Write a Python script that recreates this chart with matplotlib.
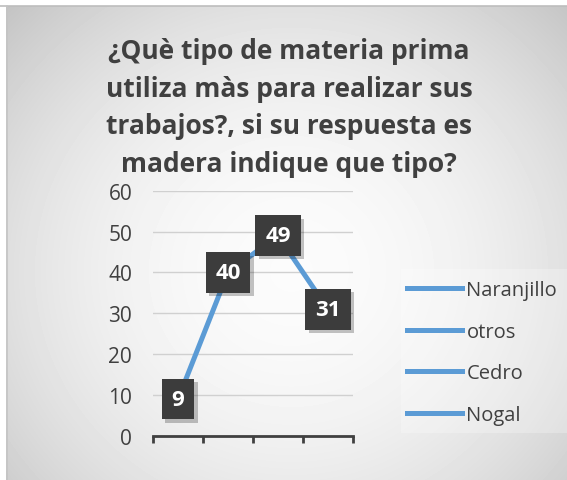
import numpy as np
import matplotlib
matplotlib.use("Agg")
import matplotlib.pyplot as plt
import matplotlib.patheffects as pe
from matplotlib.lines import Line2D
from matplotlib.patches import Rectangle

# datos
categorias = ["Naranjillo", "otros", "Cedro", "Nogal"]
valores = [9, 40, 49, 31]
y_ticks = [0, 10, 20, 30, 40, 50, 60]
titulo = ("¿Què tipo de materia prima\nutiliza màs para realizar sus\n"
          "trabajos?, si su respuesta es\nmadera indique que tipo?")

azul = "#5B9BD5"
gris_txt = "#404040"

plt.rcParams["font.family"] = ["Open Sans", "DejaVu Sans"]

W, H = 567, 481
fig = plt.figure(figsize=(W / 100, H / 100), dpi=100)
fig.patch.set_facecolor("white")

# fondo degradado radial
bg = fig.add_axes([6 / W, 0, (W - 6) / W, (H - 7) / H])
bg.set_axis_off()
yy, xx = np.mgrid[0:474, 0:561]
d = np.sqrt(((xx - 285) / 400) ** 2 + ((yy - 265) / 380) ** 2)
d = np.clip(d, 0, 1.05)
img = 0.985 - 0.22 * d ** 2
bg.imshow(img, cmap="gray", vmin=0, vmax=1, aspect="auto", interpolation="bilinear")
fig.add_artist(Line2D([0, 1], [1 - 6.5 / H] * 2, color="#bdbdbd", lw=1.2))
fig.add_artist(Line2D([6.5 / W] * 2, [0, 1 - 6.5 / H], color="#c4c4c4", lw=1.2))

# titulo
fig.text(289 / W, 1 - 108 / H, titulo, ha="center", va="center", fontsize=19,
         fontweight="bold", color=gris_txt, linespacing=1.5)

# grafico
ax = fig.add_axes([153 / W, 1 - 437 / H, 200 / W, (437 - 191.7) / H])
ax.patch.set_alpha(0)
x = np.arange(len(categorias))
ax.plot(x, valores, color=azul, lw=3.6, solid_capstyle="butt", zorder=3)
ax.set_xlim(-0.5, 3.5)
ax.set_ylim(0, 60)
ax.set_yticks(y_ticks)
ax.yaxis.grid(True, color="#d0d0d0", lw=1)
ax.set_axisbelow(True)
ax.tick_params(axis="y", length=0, pad=15, labelsize=15, labelcolor=gris_txt)
ax.set_xticks(np.arange(-0.5, 4, 1))
ax.set_xticklabels([])
ax.tick_params(axis="x", length=5, width=2, color=gris_txt, direction="out")
for s in ["left", "right", "top"]:
    ax.spines[s].set_visible(False)
ax.spines["bottom"].set_color(gris_txt)
ax.spines["bottom"].set_linewidth(2)

# etiquetas de datos
for xi, v in zip(x, valores):
    t = ax.annotate(str(v), (xi, v), ha="center", va="center", fontsize=16,
                    fontweight="bold", color="white",
                    bbox=dict(boxstyle="square,pad=0.44", fc="#3c3c3c", ec="none"),
                    zorder=5)
    t.get_bbox_patch().set_path_effects(
        [pe.SimplePatchShadow(offset=(2.5, -2.5), alpha=0.25), pe.Normal()])

# leyenda
fig.add_artist(Rectangle((401 / W, 1 - 434 / H), (W - 401) / W, (434 - 270) / H,
                         transform=fig.transFigure, fc="white", alpha=0.25, ec="none"))
handles = [Line2D([], [], color=azul, lw=3.6) for _ in categorias]
fig.legend(handles, categorias, loc="center left", bbox_to_anchor=(407 / W, 1 - 353.5 / H),
           frameon=False, fontsize=14.5, handlelength=2.75, handletextpad=0.2,
           labelspacing=1.07, borderpad=0, borderaxespad=0, labelcolor=gris_txt)

fig.savefig("out.png", dpi=100)
